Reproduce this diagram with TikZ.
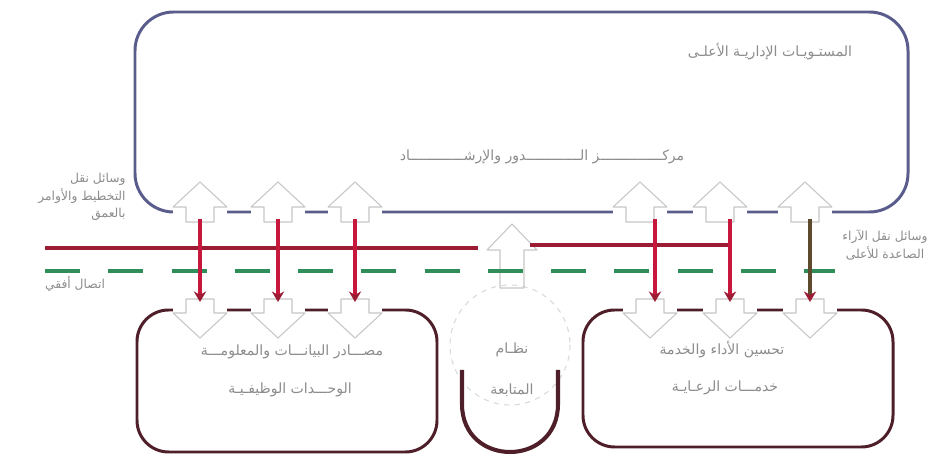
\documentclass[tikz,border=0pt]{standalone}
\usepackage{fontspec}
\newfontfamily\arabicfont[Script=Arabic]{DejaVu Sans}
\TeXXeTstate=1
\usetikzlibrary{arrows.meta}

\definecolor{upperblue}{HTML}{5A5D8C}
\definecolor{unitmaroon}{HTML}{4E1E29}
\definecolor{redbarcol}{HTML}{9C1C33}
\definecolor{feedred}{HTML}{C8173D}
\definecolor{feedolive}{HTML}{5E4A2C}
\definecolor{greenbarcol}{HTML}{2E8D58}
\definecolor{labelgray}{HTML}{8C8C8C}

\tikzset{
  upperline/.style={draw=upperblue, line width=1.7pt},
  unitline/.style={draw=unitmaroon, line width=1.7pt},
  redbar/.style={draw=redbarcol, line width=2.3pt},
  greenbar/.style={draw=greenbarcol, line width=2.3pt, dash pattern=on 20pt off 16pt},
  feed/.style={draw=feedred, line width=2.3pt, -{Stealth[length=6pt,width=7pt,color=redbarcol]}},
  chevron/.style={draw=gray!45, line width=0.6pt},
  hubring/.style={draw=gray!30, line width=0.6pt, dashed},
  arlabel/.style={font=\arabicfont\fontsize{8}{12}\selectfont, text=labelgray, align=center, inner sep=1pt},
  sidelabel/.style={arlabel, font=\arabicfont\fontsize{7}{10}\selectfont}
}

% hollow chevrons that cut the box edges
\newcommand{\upchevron}[1]{%
  \fill[white] (#1-27,206) rectangle (#1+27,218);
  \draw[chevron] (#1,182) -- (#1+27,207) -- (#1+14,207) -- (#1+14,222)
    -- (#1-14,222) -- (#1-14,207) -- (#1-27,207) -- cycle;}
\newcommand{\downchevron}[1]{%
  \fill[white] (#1-27,304) rectangle (#1+27,316);
  \draw[chevron] (#1,338) -- (#1+27,313) -- (#1+14,313) -- (#1+14,299)
    -- (#1-14,299) -- (#1-14,313) -- (#1-27,313) -- cycle;}

\begin{document}
\begin{tikzpicture}[x=0.02cm, y=-0.02cm, line join=round]

    \useasboundingbox (0,0) rectangle (944,462);

    % 1. The three boxes (upper level and the two lower units)
    \draw[upperline, rounded corners=22] (135,12) rectangle (908,212);
    \draw[unitline, rounded corners=18] (137,310) rectangle (437,452);
    \draw[unitline, rounded corners=18] (583,310) rectangle (893,447);

    % 2. Central hub: faint ring and the U-shaped cup
    \draw[hubring] (510,345) circle[radius=60];
    \draw[unitline, line width=2.3pt]
        (462,370) -- (462,404) .. controls (462,468) and (558,468) .. (558,404) -- (558,370);

    % 3. Chevrons on the box edges
    \upchevron{200} \upchevron{278} \upchevron{355}
    \upchevron{640} \upchevron{720} \upchevron{805}
    \downchevron{200} \downchevron{278} \downchevron{355}
    \downchevron{650} \downchevron{730} \downchevron{810}

    % hub chevron pointing up
    \draw[chevron] (512,224) -- (537,250) -- (524,250) -- (524,288)
        -- (500,288) -- (500,250) -- (487,250) -- cycle;

    % 4. Horizontal channels (red solid, green dashed)
    \coordinate (redL) at (45,248);
    \coordinate (redM) at (478,248);
    \coordinate (redN) at (530,245);
    \coordinate (redR) at (728,245);
    \coordinate (grnL) at (45,271);
    \coordinate (grnR) at (835,271);
    \draw[redbar] (redL) -- (redM);
    \draw[redbar] (redN) -- (redR);
    \draw[greenbar] (grnL) -- (grnR);

    % 5. Vertical flows from the upper box down to the units
    \coordinate (t1) at (200,219); \coordinate (b1) at (200,302);
    \coordinate (t2) at (278,219); \coordinate (b2) at (278,302);
    \coordinate (t3) at (355,219); \coordinate (b3) at (355,302);
    \coordinate (t4) at (655,219); \coordinate (b4) at (655,302);
    \coordinate (t5) at (730,219); \coordinate (b5) at (730,302);
    \coordinate (t6) at (810,219); \coordinate (b6) at (810,302);
    \draw[feed] (t1) -- (b1);
    \draw[feed] (t2) -- (b2);
    \draw[feed] (t3) -- (b3);
    \draw[feed] (t4) -- (b4);
    \draw[feed] (t5) -- (b5);
    \draw[feed, draw=feedolive] (t6) -- (b6);

    % 6. Labels
    \node[arlabel] (upperlbl) at (770,52) {\beginR المستـويـات الإداريـة الأعلـى\endR};
    \node[arlabel] (upperctr) at (542,157)
        {\beginR مركـــــــــــــــز الـــــــــــــدور والإرشـــــــــــــاد\endR};
    \node[sidelabel, align=right] (leftlbl) at (82,197)
        {\beginR وسائل نقل\endR\\ \beginR التخطيط والأوامر\endR\\ \beginR بالعمق\endR};
    \node[sidelabel] (greenlbl) at (75,284) {\beginR اتصال أفقي\endR};
    \node[sidelabel] (rightlbl) at (885,245)
        {\beginR وسائل نقل الآراء\endR\\ \beginR الصاعدة للأعلى\endR};
    \node[arlabel] (unitstop) at (292,352) {\beginR مصـــادر البيانـــات والمعلومـــة\endR};
    \node[arlabel] (unitsbot) at (290,390) {\beginR الوحـــدات الوظيفـيـة\endR};
    \node[arlabel] (servtop) at (722,350) {\beginR تحسين الأداء والخدمة\endR};
    \node[arlabel] (servbot) at (725,388) {\beginR خدمـــات الرعـايـة\endR};
    \node[arlabel] (hubtop) at (512,350) {\beginR نظـام\endR};
    \node[arlabel] (hubbot) at (512,390) {\beginR المتابعة\endR};

\end{tikzpicture}
\end{document}
